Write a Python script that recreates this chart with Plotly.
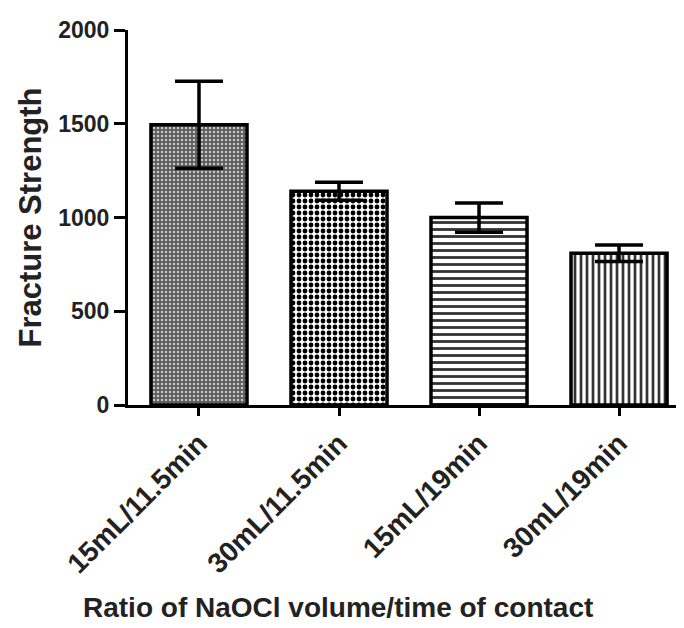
import plotly.graph_objects as go

categories = ["15mL/11.5min", "30mL/11.5min", "15mL/19min", "30mL/19min"]
means = [1495, 1140, 1000, 810]
errors = [232, 48, 78, 44]
y_ticks = [0, 500, 1000, 1500, 2000]

shapes = [".", ".", "-", "|"]
bgcols = ["#5c5c5c", "white", "white", "white"]
fgcols = ["#c8c8c8", "black", "#333333", "#333333"]
sizes = [4, 6, 7, 6]
solid = [0.3, 0.5, 0.4, 0.45]

fig = go.Figure()
for i, cat in enumerate(categories):
    fig.add_trace(go.Bar(
        x=[i],
        y=[means[i]],
        width=0.686,
        marker=dict(
            color=bgcols[i],
            line=dict(color="black", width=3.5),
            pattern=dict(shape=shapes[i], bgcolor=bgcols[i], fgcolor=fgcols[i],
                         size=sizes[i], solidity=solid[i], fillmode="replace"),
        ),
        error_y=dict(type="data", array=[errors[i]], visible=True, color="black",
                     thickness=3.5, width=24),
        showlegend=False,
        name=cat,
    ))

font = "Liberation Sans, Arial, sans-serif"
fig.add_annotation(
    text="<b>Ratio of NaOCl volume/time of contact</b>",
    xref="paper", yref="paper", x=(330 - 120) / 556, y=-(599 - 397) / 375,
    xanchor="center", yanchor="middle", showarrow=False,
    font=dict(size=28, family=font, color="#222"),
)
fig.update_layout(
    width=676, height=620,
    margin=dict(l=120, r=0, t=22, b=223),
    paper_bgcolor="white", plot_bgcolor="white",
    font=dict(family=font, color="black"),
    barmode="overlay",
    xaxis=dict(
        range=[-0.507, 3.464],
        tickvals=list(range(len(categories))),
        ticktext=["<b>%s</b>" % c for c in categories],
        tickangle=-45,
        tickfont=dict(size=28, family=font, color="#222"),
        ticks="outside", ticklen=8, tickwidth=2.5, tickcolor="black",
        showline=True, linecolor="black", linewidth=2.5,
        showgrid=False, zeroline=False, automargin=False,
    ),
    yaxis=dict(
        range=[0, 2000],
        tickvals=y_ticks,
        ticktext=["<b>%d</b>" % v for v in y_ticks],
        tickfont=dict(size=23, family=font, color="#222"),
        ticks="outside", ticklen=11, tickwidth=2.5, tickcolor="black",
        showline=True, linecolor="black", linewidth=3,
        showgrid=False, zeroline=False, automargin=False,
        title=dict(text="<b>Fracture Strength</b>",
                   font=dict(size=31, family=font, color="#222"), standoff=8),
    ),
)

fig.write_html("out.html")
